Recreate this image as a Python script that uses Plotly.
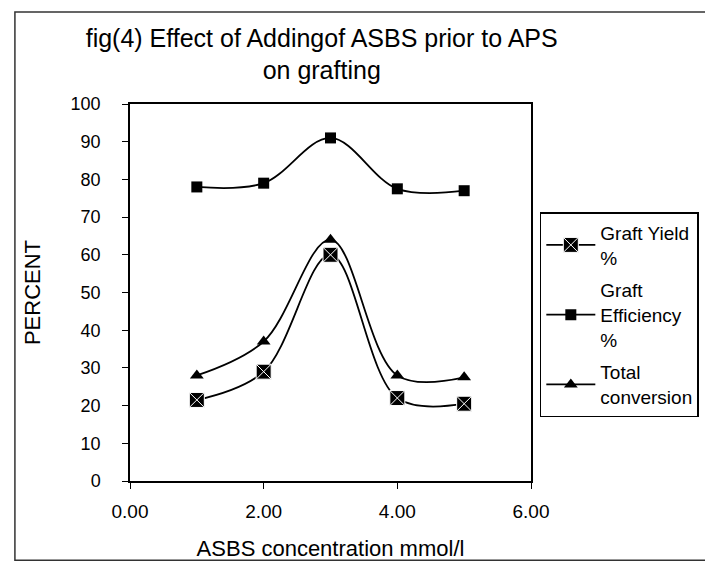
import plotly.graph_objects as go

x_vals = [1, 2, 3, 4, 5]
graft_yield = [21.5, 29, 60, 22, 20.5]
graft_eff = [78, 79, 91, 77.5, 77]
total_conv = [28, 37, 64, 28, 27.5]

fnt = "Liberation Sans, Arial, sans-serif"

fig = go.Figure()
fig.add_trace(go.Scatter(x=x_vals, y=graft_yield, name="Graft Yield<br>%", legendgroup="a",
                         mode="lines+markers", line=dict(color="black", width=1.8, shape="spline"),
                         marker=dict(symbol="square-x", size=15, color="black",
                                     line=dict(color="white", width=1))))
fig.add_trace(go.Scatter(x=x_vals, y=graft_eff, name="Graft<br>Efficiency<br>%", legendgroup="b",
                         mode="lines+markers", line=dict(color="black", width=1.8, shape="spline"),
                         marker=dict(symbol="square", size=11, color="black")))
fig.add_trace(go.Scatter(x=x_vals, y=total_conv, name="Total<br>conversion", legendgroup="c",
                         mode="lines+markers", line=dict(color="black", width=1.8, shape="spline"),
                         marker=dict(symbol="triangle-up", size=12, color="black")))

fig.update_layout(
    width=713, height=567,
    paper_bgcolor="white", plot_bgcolor="white",
    margin=dict(l=122, r=190, t=96, b=94),
    font=dict(family=fnt, color="black", size=18),
    title=dict(text="fig(4) Effect of Addingof ASBS prior to APS<br>on grafting",
               x=0.44, xanchor="center", y=0.932, yanchor="top",
               font=dict(family="Liberation Sans Narrow, Arial Narrow, Liberation Sans", size=25)),
    xaxis=dict(range=[0, 6], tickvals=[0, 2, 4, 6], tickformat=".2f",
               showgrid=False, zeroline=False, showline=True, linecolor="black", linewidth=1.5,
               mirror=True, ticks="outside", ticklen=6, tickcolor="black",
               ticklabelstandoff=6,
               title=dict(text="ASBS concentration mmol/l", standoff=20),
               tickfont=dict(size=19)),
    yaxis=dict(range=[0, 100], dtick=10,
               showgrid=False, zeroline=False, showline=True, linecolor="black", linewidth=1.5,
               mirror=True, ticks="outside", ticklen=6, tickcolor="black",
               ticklabelstandoff=18,
               title=dict(text="PERCENT", standoff=24),
               tickfont=dict(size=18)),
    legend=dict(x=1.022, xanchor="left", y=0.713, yanchor="top",
                bordercolor="black", borderwidth=1.5, bgcolor="white",
                font=dict(size=19), tracegroupgap=5, itemwidth=49),
    shapes=[dict(type="rect", xref="paper", yref="paper", x0=-0.287, x1=1.6, y0=-0.21, y1=1.244,
                 line=dict(color="#333", width=1.5))],
)

fig.write_html("out.html")
